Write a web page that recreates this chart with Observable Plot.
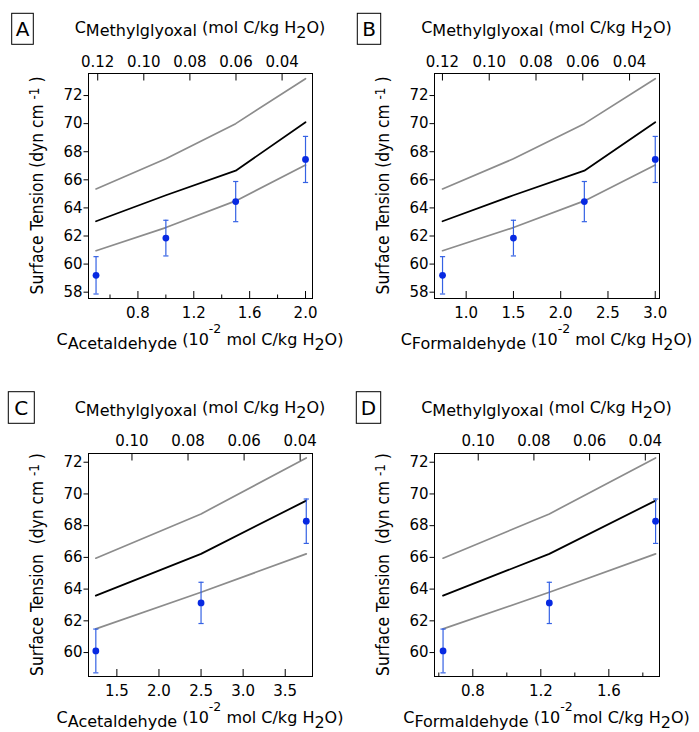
<!DOCTYPE html>
<html><head><meta charset="utf-8">
<script src="https://cdn.jsdelivr.net/npm/d3@7"></script>
<script src="https://cdn.jsdelivr.net/npm/@observablehq/plot@0.6"></script>
<style>
body{margin:0;background:#fff;}
#fig{position:relative;width:699px;height:732px;font-family:"DejaVu Sans";background:#fff;}
.panel{position:absolute;}
.panel svg{position:absolute;left:0;top:0;overflow:visible;}
</style></head><body><div id="fig"></div>
<script>
// ---------- data ----------
const xAcetAB = [0.5, 1.0, 1.5, 2.0];
const xFormAB = [0.75, 1.5, 2.25, 3.0];
const stAB    = [59.2, 61.85, 64.45, 67.45];
const errAB   = [1.33, 1.27, 1.43, 1.64];
const upperAB = [65.35, 67.5, 70.0, 73.2];
const modelAB = [63.05, 64.9, 66.65, 70.1];
const lowerAB = [60.95, 62.6, 64.5, 67.05];

const xAcetCD = [1.25, 2.5, 3.75];
const xFormCD = [0.625, 1.25, 1.875];
const stCD    = [60.1, 63.13, 68.28];
const errCD   = [1.38, 1.3, 1.4];
const upperCD = [65.95, 68.74, 72.27];
const modelCD = [63.59, 66.22, 69.58];
const lowerCD = [61.49, 63.8, 66.22];

const yTicksAB = [58, 60, 62, 64, 66, 68, 70, 72];
const yTicksCD = [60, 62, 64, 66, 68, 70, 72];
const mgTicksAB = [0.12, 0.10, 0.08, 0.06, 0.04];
const mgTicksCD = [0.10, 0.08, 0.06, 0.04];
const xMajorA = [0.8, 1.2, 1.6, 2.0];
const xMinorA = [0.6, 1.0, 1.4, 1.8];
const xMajorB = [1.0, 1.5, 2.0, 2.5, 3.0];
const xMajorC = [1.5, 2.0, 2.5, 3.0, 3.5];
const xMajorD = [0.8, 1.2, 1.6];
const xMinorD = [0.6, 1.0, 1.4, 1.8];

// ---------- panel layout ----------
const panels = [
  {id:"A", left:0, top:0, width:349, height:360, ml:88, mr:37, mt:73, mb:62,
   xs:xAcetAB, st:stAB, err:errAB, upper:upperAB, model:modelAB, lower:lowerAB,
   xDomain:[0.446, 2.05], yDomain:[57.55, 73.57], mgDomain:[0.124, 0.0268],
   xMajor:xMajorA, xMinor:xMinorA, yTicks:yTicksAB, mgTicks:mgTicksAB,
   topGap:6.5, botGap:8.5, box:[11.7, 13.3, 21.6, 31], name:"Acetaldehyde", sp:" ", ySp:" "},
  {id:"B", left:349, top:0, width:350, height:360, ml:85, mr:40, mt:73, mb:62,
   xs:xFormAB, st:stAB, err:errAB, upper:upperAB, model:modelAB, lower:lowerAB,
   xDomain:[0.665, 3.045], yDomain:[57.55, 73.57], mgDomain:[0.1234, 0.0272],
   xMajor:xMajorB, xMinor:[], yTicks:yTicksAB, mgTicks:mgTicksAB,
   topGap:6.5, botGap:8.5, box:[8.3, 13.3, 23.4, 31], name:"Formaldehyde", sp:" ", ySp:" "},
  {id:"C", left:0, top:360, width:349, height:372, ml:88, mr:37, mt:93, mb:56,
   xs:xAcetCD, st:stCD, err:errCD, upper:upperCD, model:modelCD, lower:lowerCD,
   xDomain:[1.163, 3.824], yDomain:[58.49, 72.55], mgDomain:[0.1155, 0.0356],
   xMajor:xMajorC, xMinor:[], yTicks:yTicksCD, mgTicks:mgTicksCD,
   topGap:8, botGap:9, box:[8.3, 31.7, 26, 31.6], name:"Acetaldehyde", sp:" ", ySp:"  "},
  {id:"D", left:349, top:360, width:350, height:372, ml:85, mr:40, mt:93, mb:56,
   xs:xFormCD, st:stCD, err:errCD, upper:upperCD, model:modelCD, lower:lowerCD,
   xDomain:[0.5747, 1.898], yDomain:[58.49, 72.55], mgDomain:[0.1157, 0.0349],
   xMajor:xMajorD, xMinor:xMinorD, yTicks:yTicksCD, mgTicks:mgTicksCD,
   topGap:8, botGap:9, box:[7.3, 31.7, 24.4, 31.6], name:"Formaldehyde", sp:"", ySp:"  "}
];

const fmt1 = d3.format(".1f"), fmt2 = d3.format(".2f");
const dotColor = "#0729e2", errColor = "#3562e4", grayLine = "#8c8c8c";
const capSymbol = {draw(ctx, size) { const w = Math.sqrt(size / Math.PI); ctx.moveTo(-w, 0); ctx.lineTo(w, 0); }};
const fig = document.getElementById("fig");
const baseStyle = {fontFamily: "DejaVu Sans", fontSize: "15px", color: "black", background: "transparent", overflow: "visible"};

for (const p of panels) {
  const rows = p.xs.map((x, i) => ({x, st: p.st[i], lo: p.st[i] - p.err[i], hi: p.st[i] + p.err[i],
                                     upper: p.upper[i], model: p.model[i], lower: p.lower[i]}));
  const div = document.createElement("div");
  div.className = "panel";
  Object.assign(div.style, {left: p.left + "px", top: p.top + "px", width: p.width + "px", height: p.height + "px"});
  fig.appendChild(div);

  const main = Plot.plot({
    width: p.width, height: p.height,
    marginLeft: p.ml, marginRight: p.mr, marginTop: p.mt, marginBottom: p.mb,
    x: {domain: p.xDomain}, y: {domain: p.yDomain},
    style: baseStyle,
    marks: [
      Plot.frame({stroke: "black", strokeWidth: 1}),
      Plot.line(rows, {x: "x", y: "upper", stroke: grayLine, strokeWidth: 1.7}),
      Plot.line(rows, {x: "x", y: "lower", stroke: grayLine, strokeWidth: 1.7}),
      Plot.line(rows, {x: "x", y: "model", stroke: "black", strokeWidth: 1.8}),
      Plot.ruleX(rows, {x: "x", y1: "lo", y2: "hi", stroke: errColor, strokeWidth: 1.2}),
      Plot.dot(rows, {x: "x", y: "lo", symbol: capSymbol, r: 2.6, stroke: errColor, fill: "none", strokeWidth: 1.2}),
      Plot.dot(rows, {x: "x", y: "hi", symbol: capSymbol, r: 2.6, stroke: errColor, fill: "none", strokeWidth: 1.2}),
      Plot.dot(rows, {x: "x", y: "st", r: 3.4, fill: dotColor, stroke: "none"}),
      Plot.axisX(p.xMajor, {anchor: "bottom", tickSize: -7, tickPadding: p.botGap + 7, tickFormat: fmt1, label: null}),
      p.xMinor.length ? Plot.axisX(p.xMinor, {anchor: "bottom", tickSize: -3.5, tickPadding: 0, tickFormat: () => "", label: null}) : null,
      Plot.axisY(p.yTicks, {anchor: "left", tickSize: 4.5, tickPadding: 1.5, label: null})
    ]
  });
  div.appendChild(main);

  const top = Plot.plot({
    width: p.width, height: p.height,
    marginLeft: p.ml, marginRight: p.mr, marginTop: p.mt, marginBottom: p.mb,
    x: {domain: p.mgDomain},
    style: baseStyle,
    marks: [
      Plot.axisX(p.mgTicks, {anchor: "top", tickSize: -6.5, tickPadding: p.topGap + 6.5, tickFormat: fmt2, label: null})
    ]
  });
  div.appendChild(top);

  // text decorations
  const svg = d3.select(main);
  const fl = p.ml, fr = p.width - p.mr, ft = p.mt, fb = p.height - p.mb;
  const cx = (fl + fr) / 2, cy = (ft + fb) / 2;

  // panel letter box
  const [bx, by, bw, bh] = p.box;
  svg.append("rect").attr("x", bx).attr("y", by).attr("width", bw).attr("height", bh)
     .attr("fill", "white").attr("stroke", "black").attr("stroke-width", 1);
  svg.append("text").attr("x", bx + bw / 2).attr("y", by + 23).attr("text-anchor", "middle")
     .style("font-size", "20px").attr("fill", "black").text(p.id);

  // top title
  const t = svg.append("text").attr("x", cx).attr("y", ft - 40).attr("text-anchor", "middle")
     .style("font-size", "16px").style("white-space", "pre").attr("fill", "black");
  t.append("tspan").text("C");
  t.append("tspan").attr("dy", 3.4).text("Methylglyoxal");
  t.append("tspan").attr("dy", -3.4).text(" (mol C/kg H");
  t.append("tspan").attr("dy", 5).text("2");
  t.append("tspan").attr("dy", -5).text("O)");

  // bottom title
  const b = svg.append("text").attr("x", cx).attr("y", fb + 46.5).attr("text-anchor", "middle")
     .style("font-size", "16px").style("white-space", "pre").attr("fill", "black");
  b.append("tspan").text("C");
  b.append("tspan").attr("dy", 4).text(p.name);
  b.append("tspan").attr("dy", -4).text(" (10");
  b.append("tspan").attr("dy", -11.5).style("font-size", "12.5px").text("-2");
  b.append("tspan").attr("dy", 11.5).text(p.sp + "mol C/kg H");
  b.append("tspan").attr("dy", 5).text("2");
  b.append("tspan").attr("dy", -5).text("O)");

  // y label (rotated)
  const yl = svg.append("text").attr("transform", `translate(${fl - 45},${cy}) rotate(-90) scale(1,1.12)`)
     .attr("text-anchor", "middle").style("font-size", "15.5px").style("white-space", "pre").attr("fill", "black");
  yl.append("tspan").text("Surface Tension" + p.ySp + "(dyn cm ");
  yl.append("tspan").attr("dy", -4).style("font-size", "12px").text("-1");
  yl.append("tspan").attr("dy", 4).text(" )");
}
</script></body></html>
